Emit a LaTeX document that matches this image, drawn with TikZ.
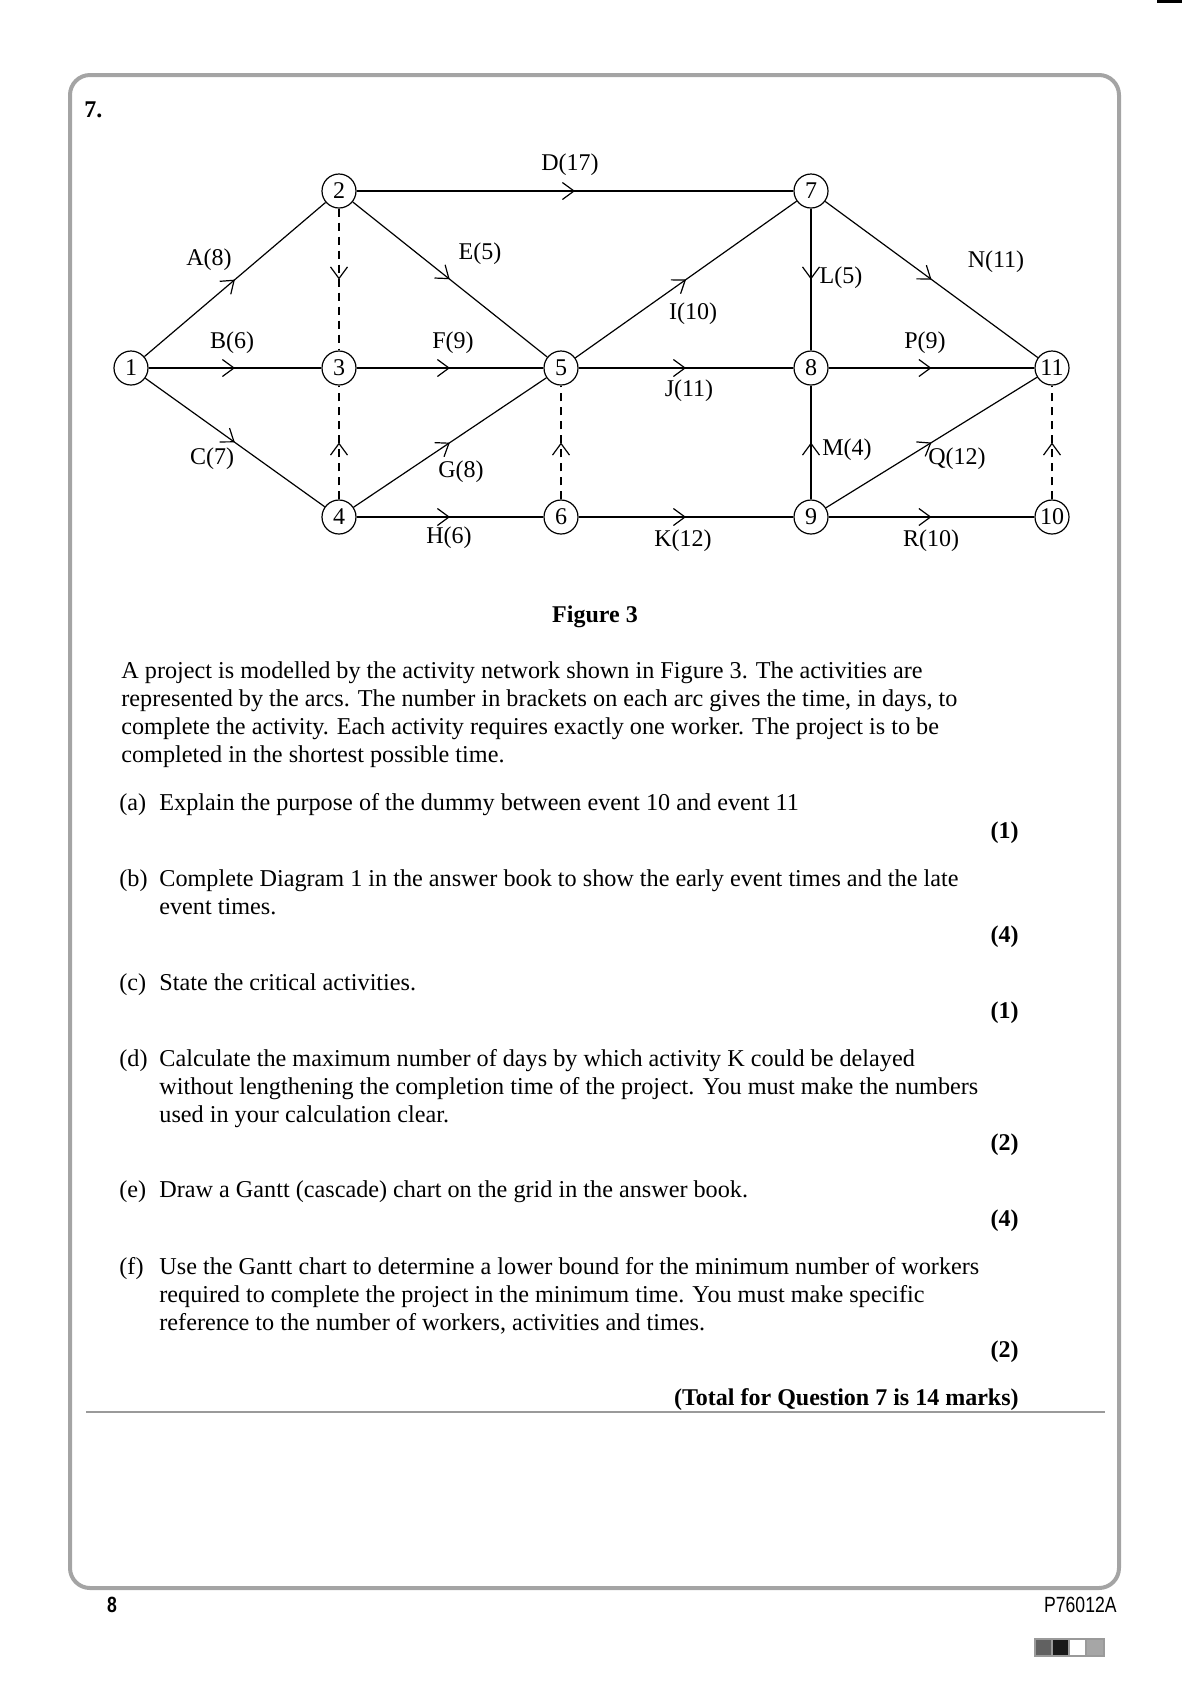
\documentclass[tikz,border=0pt]{standalone}
\usepackage{fontspec}
\setmainfont{Liberation Serif}
\newfontfamily\footfont[FakeStretch=0.8]{Liberation Sans}
\usetikzlibrary{arrows.meta,decorations.markings}
\definecolor{framegray}{HTML}{A4A4A4}
\definecolor{rulegray}{HTML}{9A9A9A}
\begin{document}
\begin{tikzpicture}[x=0.5pt,y=-0.5pt,
  ev/.style={circle,draw,line width=0.6pt,minimum size=17pt,inner sep=0pt,font=\fontsize{12}{14}\selectfont},
  act/.style={line width=0.6pt,postaction={decorate},decoration={markings,mark=at position 0.5 with {\arrow{Straight Barb[length=5.8pt,width=8.5pt,line width=0.6pt]}}}},
  dum/.style={act,dash pattern=on 4.3pt off 2.7pt},
  lab/.style={font=\fontsize{12}{14}\selectfont,inner sep=0pt},
  txt/.style={anchor=base west,inner sep=0pt,font=\fontsize{12.1}{14}\selectfont},
  mk/.style={anchor=base east,inner sep=0pt,font=\bfseries\fontsize{12}{14}\selectfont},
  sq/.style={draw=rulegray,line width=0.6pt}
]
\useasboundingbox (0,0) rectangle (1190,1683);
% page frame
\draw[line width=2pt,framegray,rounded corners=10pt] (70,75) rectangle (1119,1588);
\fill[black] (1157,0) rectangle (1182,2.5);
\node[anchor=base west,inner sep=0pt,font=\bfseries\fontsize{12}{14}\selectfont] (qnum) at (84,117) {7.};
% events
\node[ev] (n1) at (131,368) {1};
\node[ev] (n2) at (339,191) {2};
\node[ev] (n3) at (339,368) {3};
\node[ev] (n4) at (339,517) {4};
\node[ev] (n5) at (561,368) {5};
\node[ev] (n6) at (561,517) {6};
\node[ev] (n7) at (811,191) {7};
\node[ev] (n8) at (811,368) {8};
\node[ev] (n9) at (811,517) {9};
\node[ev] (n10) at (1052,517) {10};
\node[ev] (n11) at (1052,368) {11};
% activities
\draw[act] (n1) -- (n2);
\draw[act] (n1) -- (n3);
\draw[act] (n1) -- (n4);
\draw[act] (n2) -- (n7);
\draw[act] (n2) -- (n5);
\draw[act] (n3) -- (n5);
\draw[act] (n4) -- (n5);
\draw[act] (n4) -- (n6);
\draw[act] (n5) -- (n7);
\draw[act] (n5) -- (n8);
\draw[act] (n6) -- (n9);
\draw[act] (n7) -- (n8);
\draw[act] (n9) -- (n8);
\draw[act] (n7) -- (n11);
\draw[act] (n8) -- (n11);
\draw[act] (n9) -- (n11);
\draw[act] (n9) -- (n10);
% dummies
\draw[dum] (n2) -- (n3);
\draw[dum] (n4) -- (n3);
\draw[dum] (n6) -- (n5);
\draw[dum] (n10) -- (n11);
% labels
\node[lab] (lD) at (570,165) {D(17)};
\node[lab] (lA) at (209,260) {A(8)};
\node[lab] (lE) at (480,254) {E(5)};
\node[lab] (lN) at (996,262) {N(11)};
\node[lab] (lL) at (841,278) {L(5)};
\node[lab] (lI) at (693,314) {I(10)};
\node[lab] (lB) at (232,343) {B(6)};
\node[lab] (lF) at (453,343) {F(9)};
\node[lab] (lP) at (925,343) {P(9)};
\node[lab] (lJ) at (689,391) {J(11)};
\node[lab] (lC) at (212,459) {C(7)};
\node[lab] (lG) at (461,472) {G(8)};
\node[lab] (lM) at (847,450) {M(4)};
\node[lab] (lQ) at (957,459) {Q(12)};
\node[lab] (lH) at (449,538) {H(6)};
\node[lab] (lK) at (683,541) {K(12)};
\node[lab] (lR) at (931,541) {R(10)};
% caption
\node[anchor=base,inner sep=0pt,font=\bfseries\fontsize{12}{14}\selectfont] (cap) at (595,622) {Figure 3};
% paragraph
\node[txt] (p1) at (121,678) {A project is modelled by the activity network shown in Figure 3. The activities are};
\node[txt] (p2) at (121,706) {represented by the arcs. The number in brackets on each arc gives the time, in days, to};
\node[txt] (p3) at (121,734) {complete the activity. Each activity requires exactly one worker. The project is to be};
\node[txt] (p4) at (121,762) {completed in the shortest possible time.};
% (a)
\node[txt] (ia) at (119,810) {(a)};
\node[txt] (ta) at (159,810) {Explain the purpose of the dummy between event 10 and event 11};
\node[mk] (ma) at (1019,838) {(1)};
% (b)
\node[txt] (ib) at (119,886) {(b)};
\node[txt] (tb1) at (159,886) {Complete Diagram 1 in the answer book to show the early event times and the late};
\node[txt] (tb2) at (159,914) {event times.};
\node[mk] (mb) at (1019,942) {(4)};
% (c)
\node[txt] (ic) at (119,990) {(c)};
\node[txt] (tc) at (159,990) {State the critical activities.};
\node[mk] (mc) at (1019,1018) {(1)};
% (d)
\node[txt] (id) at (119,1066) {(d)};
\node[txt] (td1) at (159,1066) {Calculate the maximum number of days by which activity K could be delayed};
\node[txt] (td2) at (159,1094) {without lengthening the completion time of the project. You must make the numbers};
\node[txt] (td3) at (159,1122) {used in your calculation clear.};
\node[mk] (md) at (1019,1150) {(2)};
% (e)
\node[txt] (ie) at (119,1197) {(e)};
\node[txt] (te) at (159,1197) {Draw a Gantt (cascade) chart on the grid in the answer book.};
\node[mk] (me) at (1019,1226) {(4)};
% (f)
\node[txt] (iff) at (119,1274) {(f)};
\node[txt] (tf1) at (159,1274) {Use the Gantt chart to determine a lower bound for the minimum number of workers};
\node[txt] (tf2) at (159,1302) {required to complete the project in the minimum time. You must make specific};
\node[txt] (tf3) at (159,1330) {reference to the number of workers, activities and times.};
\node[mk] (mf) at (1019,1357) {(2)};
\node[mk] (tot) at (1019,1405) {(Total for Question 7 is 14 marks)};
\draw[rulegray,line width=1pt] (86,1412) -- (1105,1412);
% footer
\node[anchor=base,inner sep=0pt,font=\footfont\bfseries\fontsize{11}{13}\selectfont] (pg) at (112,1612) {8};
\node[anchor=base east,inner sep=0pt,font=\footfont\fontsize{11}{13}\selectfont] (code) at (1117,1612) {P76012A};
\filldraw[sq,fill=black!62] (1035,1639) rectangle (1052,1656);
\filldraw[sq,fill=black!90] (1052,1639) rectangle (1069,1656);
\filldraw[sq,fill=white] (1069,1639) rectangle (1086,1656);
\filldraw[sq,fill=black!35] (1086,1639) rectangle (1104,1656);
\end{tikzpicture}
\end{document}
